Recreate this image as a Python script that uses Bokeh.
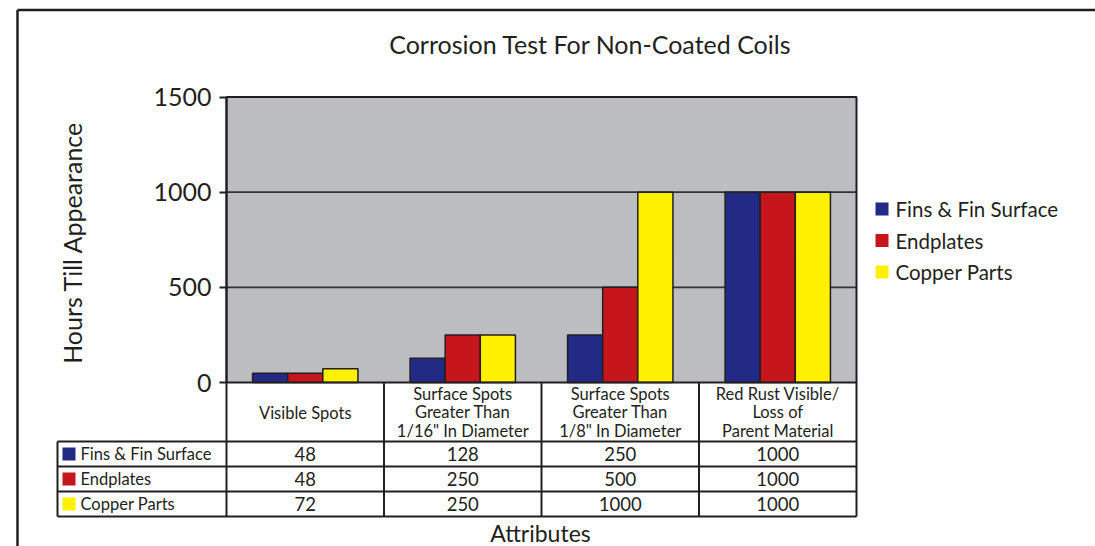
import math
from bokeh.plotting import figure
from bokeh.models import Range1d, LinearAxis, FixedTicker, ColumnDataSource
from bokeh.transform import dodge
from bokeh.core.properties import value
from bokeh.embed import file_html
from bokeh.resources import INLINE

# ---------------- data ----------------
title = "Corrosion Test For Non-Coated Coils"
y_label = "Hours Till Appearance"
x_label = "Attributes"
categories = [
    "Visible Spots",
    "Surface Spots\nGreater Than\n1/16\" In Diameter",
    "Surface Spots\nGreater Than\n1/8\" In Diameter",
    "Red Rust Visible/\nLoss of\nParent Material",
]
series = ["Fins & Fin Surface", "Endplates", "Copper Parts"]
fins = [48, 128, 250, 1000]
endplates = [48, 250, 500, 1000]
copper = [72, 250, 1000, 1000]
y_ticks = [0, 500, 1000, 1500]

# ---------------- style / layout ----------------
colors = ["#232a85", "#c6161c", "#fff100"]
INK = "#231f20"
FONT = "Lato"
W, H = 1095, 546
OX, OY = 0, 0                     # page offset of canvas
PL, PR, PT, PB = 226, 856, 96.5, 382   # plot area (page px)
n = len(categories)
ymax = y_ticks[-1]
ux = (PR - PL) / n
uy = (PB - PT) / ymax

p = figure(width=W, height=H, output_backend="svg", toolbar_location=None,
           x_range=Range1d(OX, OX + W), y_range=Range1d(OY + H, OY),
           x_axis_type=None, y_axis_type=None, min_border=0,
           outline_line_color=None, background_fill_color="white")
p.extra_x_ranges = {"cat": Range1d(-(PL - OX) / ux, n + (OX + W - PR) / ux)}
p.extra_y_ranges = {"hrs": Range1d(-(OY + H - PB) / uy, (PB - OY) / uy)}

# outer frame
p.segment(x0=[17, 17], y0=[9.5, 9.5], x1=[OX + W, 17], y1=[9.5, OY + H],
          line_color=INK, line_width=2.5)

# plot background + grid
p.quad(left=0, right=n, bottom=0, top=ymax, x_range_name="cat", y_range_name="hrs",
       fill_color="#bcbdc1", line_color=None)
p.segment(x0=0, x1=n, y0=y_ticks[1:-1], y1=y_ticks[1:-1], x_range_name="cat",
          y_range_name="hrs", line_color="#333333", line_width=1.6)

# bars
xc = [i + 0.5 for i in range(n)]
src = ColumnDataSource(dict(xc=xc, fins=fins, endplates=endplates, copper=copper))
bw = 0.223
for k, col in enumerate(["fins", "endplates", "copper"]):
    p.vbar(x=dodge("xc", (k - 1) * bw), top=col, width=bw, bottom=0, source=src,
           x_range_name="cat", y_range_name="hrs", fill_color=colors[k],
           line_color=INK, line_width=1.5)

# plot border
p.quad(left=0, right=n, bottom=0, top=ymax, x_range_name="cat", y_range_name="hrs",
       fill_color=None, line_color=INK, line_width=2)

# y axis
ax = LinearAxis(y_range_name="hrs", fixed_location=PL, ticker=FixedTicker(ticks=y_ticks),
                bounds=(0, ymax), major_tick_out=7, major_tick_in=0,
                minor_tick_out=0, minor_tick_in=0, axis_line_width=2, axis_line_color=INK,
                major_tick_line_width=2, major_tick_line_color=INK,
                major_label_text_font=FONT, major_label_text_font_size="25px",
                major_label_text_color=INK, major_label_standoff=8)
p.add_layout(ax, "left")

# ---------------- data table ----------------
TL = (57 - PL) / ux
row_lines = [441, 466, 491, 516]
row_centers = [(row_lines[i] + row_lines[i + 1]) / 2 for i in range(3)]
# vertical lines
p.segment(x0=list(range(n + 1)), x1=list(range(n + 1)), y0=PB, y1=row_lines[-1],
          x_range_name="cat", line_color=INK, line_width=2)
p.segment(x0=TL, x1=TL, y0=row_lines[0], y1=row_lines[-1], x_range_name="cat",
          line_color=INK, line_width=2)
p.segment(x0=TL, x1=n, y0=row_lines, y1=row_lines, x_range_name="cat",
          line_color=INK, line_width=2)
# header text
p.text(x=xc, y=412, text=categories, x_range_name="cat", text_align="center",
       text_baseline="middle", text_font=value(FONT), text_font_size="16.5px",
       text_line_height=0.93, text_color=INK)
# values
for k, vals in enumerate([fins, endplates, copper]):
    p.text(x=xc, y=row_centers[k], text=[str(v) for v in vals], x_range_name="cat",
           text_align="center", text_baseline="middle", text_font=value(FONT),
           text_font_size="18.5px", text_color=INK)
# row labels
p.scatter(x=68.5, y=row_centers, marker="square", size=13, fill_color=colors,
          line_color=None)
p.text(x=80, y=row_centers, text=series, text_align="left", text_baseline="middle",
       text_font=value(FONT), text_font_size="16.5px", text_color=INK)

# ---------------- legend ----------------
leg_y = [208.5, 240, 271.5]
p.scatter(x=881.5, y=leg_y, marker="square", size=13, fill_color=colors, line_color=None)
p.text(x=895, y=leg_y, text=series, text_align="left", text_baseline="middle",
       text_font=value(FONT), text_font_size="20.5px", text_color=INK)

# ---------------- titles ----------------
p.text(x=590, y=43, text=[title], text_align="center", text_baseline="middle",
       text_font=value(FONT), text_font_size="25px", text_color=INK)
p.text(x=71, y=242, text=[y_label], angle=math.pi / 2, text_align="center",
       text_baseline="middle", text_font=value(FONT), text_font_size="25px",
       text_color=INK)
p.text(x=540, y=532, text=[x_label], text_align="center", text_baseline="middle",
       text_font=value(FONT), text_font_size="23px", text_color=INK)

open("out.html", "w").write(file_html(p, INLINE))
